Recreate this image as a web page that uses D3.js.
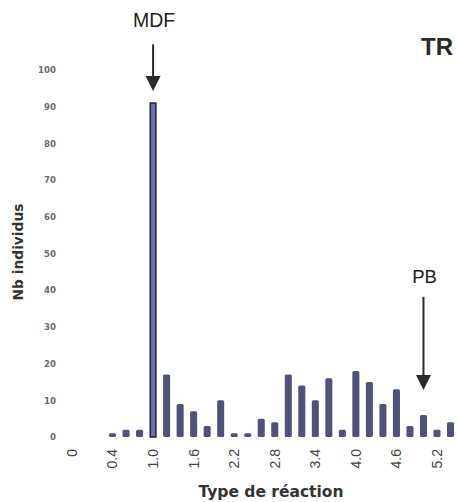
<!DOCTYPE html>
<html>
<head>
<meta charset="utf-8">
<script src="https://cdn.jsdelivr.net/npm/d3@7"></script>
<style>
  body { margin: 0; background: #fff; }
  svg { display: block; }
</style>
</head>
<body>
<div id="chart"></div>
<script>
// catégories de réaction (les 3 premières sont vides)
const categories = ["0", "0.1", "0.2", "0.4", "0.6", "0.8", "1.0", "1.2", "1.4", "1.6", "1.8", "2.0",
    "2.2", "2.4", "2.6", "2.8", "3.0", "3.2", "3.4", "3.6", "3.8", "4.0", "4.2", "4.4", "4.6",
    "4.8", "5.0", "5.2", "5.4"];
const counts = [0, 0, 0, 1, 2, 2, 91, 17, 9, 7, 3, 10,
    1, 1, 5, 4, 17, 14, 10, 16, 2, 18, 15, 9, 13,
    3, 6, 2, 4];
const xTickLabels = ["0", "0.4", "1.0", "1.6", "2.2", "2.8", "3.4", "4.0", "4.6", "5.2"];
const yTicks = [0, 10, 20, 30, 40, 50, 60, 70, 80, 90, 100];
const highlighted = ["1.0"];
const annotations = [
    { label: "MDF", cat: "1.0", top: 107, tip: 94.3, text: 111.6, size: 19.5 },
    { label: "PB", cat: "5.0", top: 38.2, tip: 12.8, text: 42, size: 18.5 }
];

const width = 457, height = 502;
const svg = d3.select("#chart").append("svg")
    .attr("width", width)
    .attr("height", height);

const x = d3.scaleBand()
    .domain(categories)
    .range([65.2, 65.2 + 13.52 * categories.length])
    .paddingInner(0.48)
    .paddingOuter(0.24);

const y = d3.scaleLinear()
    .domain([0, 100])
    .range([437, 70]);

// axe Y
const yAxis = svg.append("g")
    .attr("transform", "translate(60,0)")
    .call(d3.axisLeft(y).tickValues(yTicks).tickSize(0).tickPadding(4));
yAxis.select(".domain").remove();
yAxis.selectAll("text")
    .attr("font-family", "DejaVu Sans")
    .attr("font-weight", "bold")
    .attr("font-size", 8.6)
    .attr("fill", "#6a6a6a");

// axe X
const xAxis = svg.append("g")
    .attr("transform", "translate(0,446)")
    .call(d3.axisBottom(x).tickValues(xTickLabels).tickSize(0));
xAxis.select(".domain").remove();
xAxis.selectAll("text")
    .attr("font-family", "Liberation Sans, Arial")
    .attr("font-size", 14)
    .attr("fill", "#444")
    .attr("transform", "rotate(-90)")
    .attr("text-anchor", "end")
    .attr("x", -3)
    .attr("y", 0)
    .attr("dy", "0.35em");

// barres
const isHi = d => highlighted.includes(d.cat);
svg.append("g")
    .selectAll("rect")
    .data(categories.map((c, i) => ({ cat: c, n: counts[i] })).filter(d => d.n > 0))
    .join("rect")
    .attr("x", d => x(d.cat) + (isHi(d) ? 0.7 : 0))
    .attr("y", d => y(d.n))
    .attr("width", d => x.bandwidth() - (isHi(d) ? 1.4 : 0))
    .attr("height", d => y(0) - y(d.n))
    .attr("rx", d => isHi(d) ? 0 : 1.5)
    .attr("fill", d => isHi(d) ? "#6a72bf" : "#4f5379")
    .attr("stroke", d => isHi(d) ? "#222" : "none")
    .attr("stroke-width", 1.5);

// flèches d'annotation
const ann = svg.append("g").selectAll("g").data(annotations).join("g");
ann.append("line")
    .attr("x1", d => x(d.cat) + x.bandwidth() / 2)
    .attr("x2", d => x(d.cat) + x.bandwidth() / 2)
    .attr("y1", d => y(d.top))
    .attr("y2", d => y(d.tip) - 12)
    .attr("stroke", "#2a2a2a")
    .attr("stroke-width", 2);
ann.append("path")
    .attr("d", d => {
        const cx = x(d.cat) + x.bandwidth() / 2, ty = y(d.tip);
        return `M${cx - 7.5},${ty - 15} L${cx + 7.5},${ty - 15} L${cx},${ty} Z`;
    })
    .attr("fill", "#2a2a2a");
ann.append("text")
    .attr("x", d => x(d.cat) + x.bandwidth() / 2 + 1)
    .attr("y", d => y(d.text))
    .attr("text-anchor", "middle")
    .attr("font-family", "Liberation Sans, Arial")
    .attr("font-size", d => d.size)
    .attr("fill", "#222")
    .text(d => d.label);

// titres
svg.append("text")
    .attr("transform", "translate(23,252) rotate(-90)")
    .attr("text-anchor", "middle")
    .attr("font-family", "DejaVu Sans")
    .attr("font-weight", "bold")
    .attr("font-size", 13.8)
    .attr("fill", "#333")
    .text("Nb individus");

svg.append("text")
    .attr("x", 271)
    .attr("y", 497)
    .attr("text-anchor", "middle")
    .attr("font-family", "DejaVu Sans")
    .attr("font-weight", "bold")
    .attr("font-size", 15.5)
    .attr("fill", "#333")
    .text("Type de réaction");

svg.append("text")
    .attr("x", 421)
    .attr("y", 55)
    .attr("font-family", "Liberation Sans, Arial")
    .attr("font-weight", "bold")
    .attr("font-size", 24)
    .attr("fill", "#2a2a2a")
    .text("TR");
</script>
</body>
</html>
